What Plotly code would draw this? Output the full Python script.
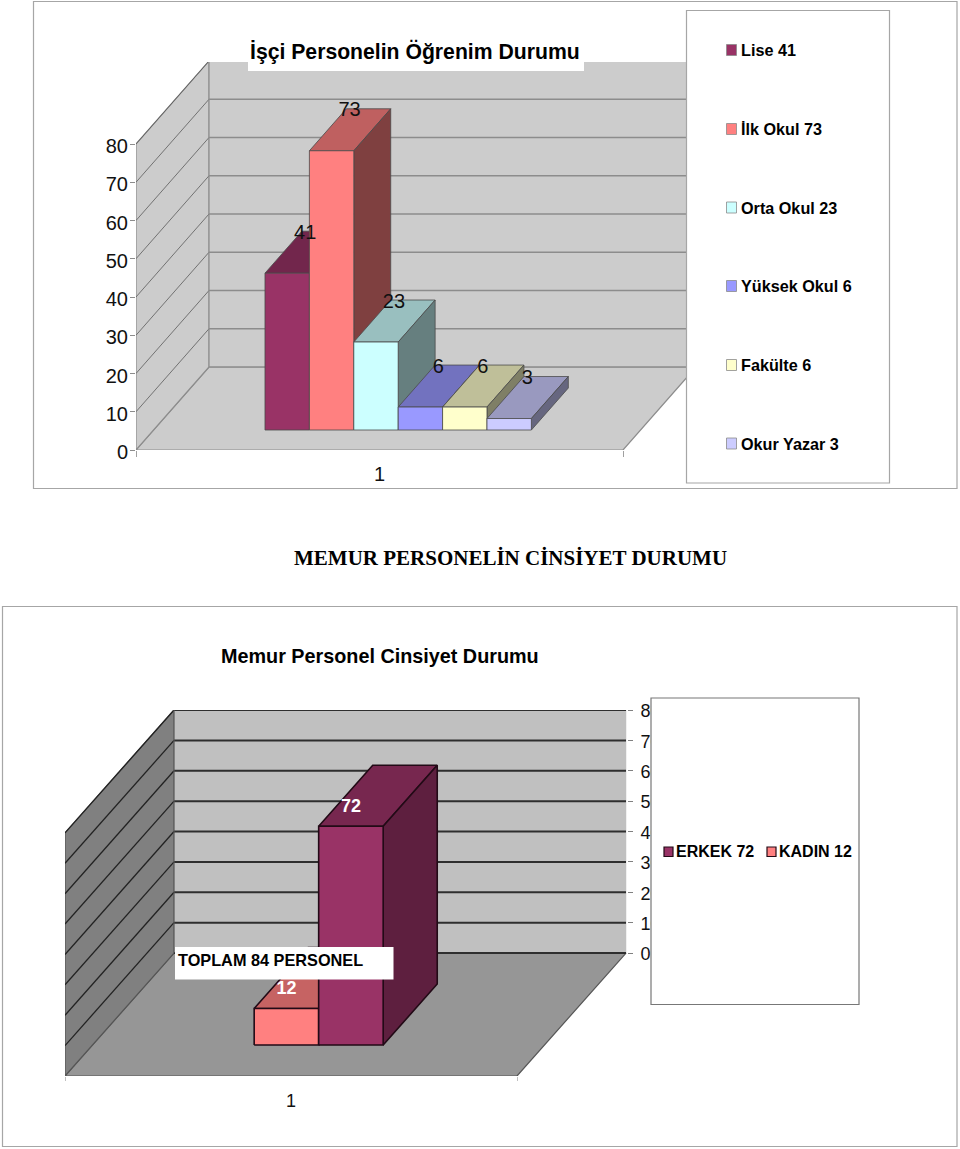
import plotly.graph_objects as go

W, H = 960, 1149

# ---- data ----
edu_categories = ["Lise", "İlk Okul", "Orta Okul", "Yüksek Okul", "Fakülte", "Okur Yazar"]
edu_values = [41, 73, 23, 6, 6, 3]
edu_colors = ["#993366", "#FF8080", "#CCFFFF", "#9999FF", "#FFFFCC", "#CCCCFF"]
edu_ticks = [0, 10, 20, 30, 40, 50, 60, 70, 80]

gender_categories = ["KADIN", "ERKEK"]
gender_values = [12, 72]
gender_colors = ["#FF8080", "#993366"]
gender_legend_order = ["ERKEK", "KADIN"]
gender_ticks = [0, 10, 20, 30, 40, 50, 60, 70, 80]

title_top = "İşçi Personelin Öğrenim Durumu"
title_mid = "MEMUR PERSONELİN CİNSİYET DURUMU"
title_low = "Memur Personel Cinsiyet Durumu"
note_low = "TOPLAM 84 PERSONEL"
category_label = "1"


def shade(hex_color, k):
    r, g, b = (int(hex_color[i:i + 2], 16) for i in (1, 3, 5))
    return f"rgb({int(r * k)},{int(g * k)},{int(b * k)})"


def px(x):
    return x / W


def py(y):
    return 1 - y / H


fig = go.Figure()


def poly(xs, ys, fill, line, width, xa, ya, name=None):
    fig.add_trace(go.Scatter(
        x=list(xs) + [xs[0]], y=list(ys) + [ys[0]], mode="lines", fill="toself",
        fillcolor=fill, line=dict(color=line, width=width), xaxis=xa, yaxis=ya,
        hoverinfo="skip", showlegend=False, cliponaxis=False, name=name or ""))


def seg(xs, ys, color, width, xa, ya):
    fig.add_trace(go.Scatter(
        x=xs, y=ys, mode="lines", line=dict(color=color, width=width), xaxis=xa, yaxis=ya,
        hoverinfo="skip", showlegend=False, cliponaxis=False))


def draw_chart(xa, ya, dx, dy, ymax, values, colors, names, x0, bw, d0, d1, ticks,
               wall, side_wall, floor, edge, grid_back, grid_side, gw_back, gw_side,
               bar_line, bar_w, top_k, side_k, label_font):
    # dx, dy: full floor depth in x units and y units. Floor front at y = base.
    base = -dy if xa == "x2" else 0
    back0 = base + dy
    xmax = 1 + dx
    top = ticks[-1] + back0
    # walls and floor
    poly([0, dx, xmax, 1], [base, back0, back0, base], floor, edge, 1.2, xa, ya)
    poly([0, dx, dx, 0], [base, back0, top, top - dy], side_wall, edge, 1.2, xa, ya)
    poly([dx, xmax, xmax, dx], [back0, back0, top, top], wall, wall, 0.5, xa, ya)
    for v in ticks:
        yb = back0 + v
        if v > 0:
            seg([0, dx], [base + v, yb], grid_side, gw_side, xa, ya)
        seg([dx, xmax], [yb, yb], grid_back, gw_back, xa, ya)
    seg([dx, dx], [back0, top], edge, 1.2, xa, ya)
    # bars
    labels_x, labels_y = [], []
    for i, (val, col, nm) in enumerate(zip(values, colors, names)):
        xl = x0 + i * bw
        xr = xl + bw
        fx0, fy0 = dx * d0, base + dy * d0
        bx, by = dx * (d1 - d0), dy * (d1 - d0)
        poly([xl + fx0, xr + fx0, xr + fx0 + bx, xl + fx0 + bx],
             [fy0 + val, fy0 + val, fy0 + val + by, fy0 + val + by],
             shade(col, top_k), bar_line, bar_w, xa, ya, nm)
        poly([xr + fx0, xr + fx0 + bx, xr + fx0 + bx, xr + fx0],
             [fy0, fy0 + by, fy0 + by + val, fy0 + val],
             shade(col, side_k), bar_line, bar_w, xa, ya, nm)
        poly([xl + fx0, xr + fx0, xr + fx0, xl + fx0],
             [fy0, fy0, fy0 + val, fy0 + val], col, bar_line, bar_w, xa, ya, nm)
        labels_x.append((xl + xr) / 2 + fx0 + label_font["shift_x"])
        labels_y.append(fy0 + val + label_font["shift_y"])
    fig.add_trace(go.Scatter(
        x=labels_x, y=labels_y, mode="text", text=[str(v) for v in values],
        textposition="middle center",
        textfont=dict(family=label_font["family"], size=label_font["size"], color=label_font["color"]),
        xaxis=xa, yaxis=ya, hoverinfo="skip", showlegend=False, cliponaxis=False))


# ---- chart 1 geometry: px per unit ----
FONT = "Liberation Sans"
u1x, u1y = 487.0, 3.825
dx1, dy1 = 73 / u1x, 83 / u1y
draw_chart("x", "y", dx1, dy1, None, edu_values, edu_colors, edu_categories,
           (265 - 136 - 17.6) / u1x, 44.4 / u1x, 20 / 83, 62 / 83, edu_ticks,
           "#CCCCCC", "#CCCCCC", "#CCCCCC", "#8C8C8C", "#8C8C8C", "#5A5A5A", 1.3, 0.8,
           "#4A4A4A", 0.8, 0.75, 0.5,
           dict(family=FONT, size=20, color="#111111", shift_x=18 / u1x, shift_y=39.5 / u1y))

# ---- chart 2 geometry ----
u2x, u2y = 452.0, 3.04
dx2, dy2 = 109 / u2x, 123 / u2y
draw_chart("x2", "y2", dx2, dy2, None, gender_values, gender_colors, gender_categories,
           (254 - 65 - 27.3) / u2x, 64.5 / u2x, 31 / 123, 92 / 123, gender_ticks,
           "#C0C0C0", "#808080", "#969696", "#555555", "#2E2E2E", "#222222", 2, 1.3,
           "#220A16", 1.6, 0.78, 0.62,
           dict(family=FONT + ", Arial", size=18, color="#FFFFFF", shift_x=0, shift_y=19 / u2y))
fig.data[-1].textfont.weight = "bold"

GREY = "#A6A6A6"
shapes = [
    dict(type="rect", xref="paper", yref="paper", layer="below", x0=px(33.5), x1=px(957), y0=py(1.5), y1=py(488.5),
         line=dict(color=GREY, width=1.2), fillcolor="white"),
    dict(type="rect", xref="paper", yref="paper", layer="below", x0=px(2.5), x1=px(957), y0=py(606.5), y1=py(1146.5),
         line=dict(color=GREY, width=1.2), fillcolor="white"),
    # title background
    dict(type="rect", xref="paper", yref="paper", layer="above", x0=px(248), x1=px(584), y0=py(38), y1=py(71),
         line=dict(width=0), fillcolor="white"),
    # legends
    dict(type="rect", xref="paper", yref="paper", layer="above", x0=px(686.5), x1=px(889.5), y0=py(10.5), y1=py(483),
         line=dict(color=GREY, width=1.2), fillcolor="white"),
    dict(type="rect", xref="paper", yref="paper", layer="above", x0=px(651), x1=px(859), y0=py(698), y1=py(1004.5),
         line=dict(color="#777777", width=1.2), fillcolor="white"),
    # note box
    dict(type="rect", xref="paper", yref="paper", layer="above", x0=px(175), x1=px(393.5), y0=py(947), y1=py(979.5),
         line=dict(width=0), fillcolor="white"),
]

annotations = []


def text(x, y, s, size, bold=True, family=FONT, anchor="left", color="#000000"):
    annotations.append(dict(
        xref="paper", yref="paper", x=px(x), y=py(y), text=f"<b>{s}</b>" if bold else s, showarrow=False,
        xanchor=anchor, yanchor="middle", borderpad=0, borderwidth=0,
        font=dict(family=family, size=size, color=color)))


text(415, 52, title_top, 21.2, anchor="center")
text(510.5, 558, title_mid, 21, family="Liberation Serif", anchor="center")
text(380, 656, title_low, 19.8, anchor="center")
text(178, 960, note_low, 16.3)

legend_rows = [50, 129, 207.5, 286, 365, 443.5]
for yc, cat, val, col in zip(legend_rows, edu_categories, edu_values, edu_colors):
    shapes.append(dict(type="rect", xref="paper", yref="paper", layer="above",
                       x0=px(726.5), x1=px(736.5), y0=py(yc - 5.5), y1=py(yc + 5.5),
                       line=dict(color="#8A8A8A", width=0.8), fillcolor=col))
    text(741, yc, f"{cat} {val}", 16.2)

gender_lookup = dict(zip(gender_categories, gender_values))
color_lookup = dict(zip(gender_categories, gender_colors))
for xs, xt, cat in zip([664, 767], [676, 779], gender_legend_order):
    shapes.append(dict(type="rect", xref="paper", yref="paper", layer="above",
                       x0=px(xs), x1=px(xs + 9), y0=py(847), y1=py(856.5),
                       line=dict(color="#220A16", width=1.2), fillcolor=color_lookup[cat]))
    text(xt, 851, f"{cat} {gender_lookup[cat]}", 16)

axis_font = dict(family=FONT, size=20, color="#111111")
fig.update_layout(
    width=W, height=H, margin=dict(l=0, r=0, t=0, b=0, autoexpand=False), showlegend=False,
    paper_bgcolor="white", plot_bgcolor="rgba(0,0,0,0)", shapes=shapes, annotations=annotations,
    xaxis=dict(domain=[px(136), px(696)], range=[0, 560 / u1x], anchor="y", showgrid=False, zeroline=False,
               automargin=False, tickmode="array", tickvals=[0.5], ticktext=[category_label], ticks="",
               tickfont=axis_font, ticklabelstandoff=10,
               minor=dict(tickmode="array", tickvals=[0, 1], ticks="outside", ticklen=6, tickcolor="#A0A0A0", tickwidth=1)),
    yaxis=dict(domain=[py(450), py(62)], range=[0, 388 / u1y], anchor="x", showgrid=False, zeroline=False,
               automargin=False, tickmode="array", tickvals=edu_ticks, ticktext=[str(t) for t in edu_ticks],
               ticks="outside", ticklen=5, tickcolor="#8C8C8C", tickfont=axis_font, ticklabelstandoff=-2,
               ticklabelshift=2),
    xaxis2=dict(domain=[px(65), px(627)], range=[0, 562 / u2x], anchor="y2", showgrid=False, zeroline=False,
                automargin=False, tickmode="array", tickvals=[0.5], ticktext=[category_label], ticks="",
                tickfont=dict(family=FONT, size=18, color="#111111"), ticklabelstandoff=12,
                minor=dict(tickmode="array", tickvals=[0, 1], ticks="outside", ticklen=4, tickcolor="#C0C0C0", tickwidth=1)),
    yaxis2=dict(domain=[py(1076), py(710)], range=[-123 / u2y, 80], anchor="x2", side="right", showgrid=False,
                zeroline=False, automargin=False, tickmode="array", tickvals=gender_ticks,
                ticktext=[str(t) for t in gender_ticks], ticks="outside", ticklen=5, tickcolor="#808080",
                tickfont=dict(family=FONT, size=18, color="#111111"), ticklabelstandoff=4, ticklabelshift=1),
)

fig.write_html("out.html", config=dict(displayModeBar=False),
               post_script="document.body.style.margin='0';")
